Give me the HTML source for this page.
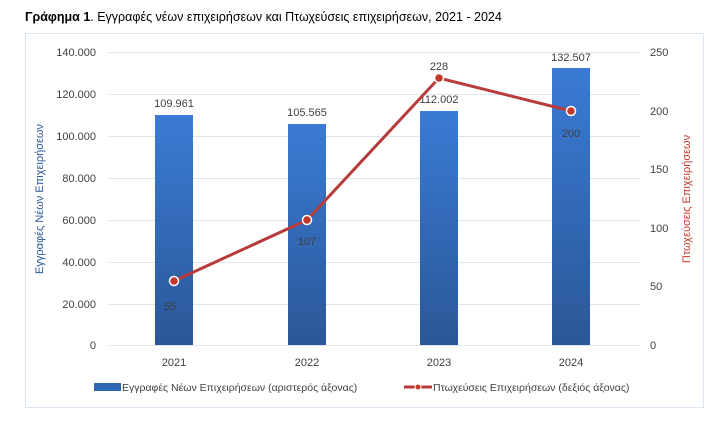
<!DOCTYPE html>
<html><head><meta charset="utf-8"><style>
body{margin:0;background:#fff;width:716px;height:429px;overflow:hidden;font-family:"Liberation Sans",sans-serif;}
</style></head><body>
<svg width="716" height="429" xmlns="http://www.w3.org/2000/svg" font-family="Liberation Sans, sans-serif">
<defs><linearGradient id="g" x1="0" y1="0" x2="0" y2="1"><stop offset="0" stop-color="#3a7bd5"/><stop offset="1" stop-color="#2b5797"/></linearGradient></defs>
<text x="25" y="21" font-size="12.5" fill="#000"><tspan font-weight="bold">Γράφημα 1</tspan>. Εγγραφές νέων επιχειρήσεων και Πτωχεύσεις επιχειρήσεων, 2021 - 2024</text>
<rect x="25.5" y="33.5" width="678" height="374" fill="#fff" stroke="#dbe5f1"/>
<g stroke="#dde6f0" stroke-width="1">
<line x1="108" x2="640" y1="52.5" y2="52.5"/><line x1="108" x2="640" y1="94.5" y2="94.5"/><line x1="108" x2="640" y1="136.5" y2="136.5"/><line x1="108" x2="640" y1="178.5" y2="178.5"/><line x1="108" x2="640" y1="220.5" y2="220.5"/><line x1="108" x2="640" y1="262.5" y2="262.5"/><line x1="108" x2="640" y1="304.5" y2="304.5"/><line x1="108" x2="640" y1="345.5" y2="345.5"/>
</g>
<g font-size="11" fill="#404040" text-anchor="end">
<text x="96" y="56">140.000</text><text x="96" y="98">120.000</text><text x="96" y="140">100.000</text><text x="96" y="182">80.000</text><text x="96" y="224">60.000</text><text x="96" y="266">40.000</text><text x="96" y="308">20.000</text><text x="96" y="349">0</text>
</g>
<g font-size="11" fill="#404040">
<text x="650" y="56">250</text><text x="650" y="115">200</text><text x="650" y="173">150</text><text x="650" y="232">100</text><text x="650" y="290">50</text><text x="650" y="349">0</text>
</g>
<text transform="translate(43,199) rotate(-90)" font-size="11" fill="#2b5797" text-anchor="middle">Εγγραφές Νέων Επιχειρήσεων</text>
<text transform="translate(690,199) rotate(-90)" font-size="11" fill="#c0392b" text-anchor="middle">Πτωχεύσεις Επιχειρήσεων</text>
<rect x="155" y="115" width="38" height="230" fill="url(#g)"/>
<rect x="288" y="124" width="38" height="221" fill="url(#g)"/>
<rect x="420" y="111" width="38" height="234" fill="url(#g)"/>
<rect x="552" y="68" width="38" height="277" fill="url(#g)"/>
<g font-size="11" fill="#404040" text-anchor="middle">
<text x="174" y="107">109.961</text><text x="307" y="116">105.565</text><text x="439" y="103">112.002</text><text x="571" y="61">132.507</text>
<text x="174" y="366">2021</text><text x="307" y="366">2022</text><text x="439" y="366">2023</text><text x="571" y="366">2024</text>
</g>
<polyline points="174,281 307,220 439,78 571,111" fill="none" stroke="#b83b3b" stroke-width="3"/>
<g fill="#c0392b" stroke="#fff" stroke-width="1.5">
<circle cx="174" cy="281" r="4.5"/><circle cx="307" cy="220" r="4.5"/><circle cx="439" cy="78" r="4.5"/><circle cx="571" cy="111" r="4.5"/>
</g>
<g font-size="11" fill="#404040" text-anchor="middle">
<text x="170" y="310">55</text><text x="307" y="245">107</text><text x="439" y="70">228</text><text x="571" y="137">200</text>
</g>
<rect x="94" y="383" width="27" height="8" fill="#2f66b3"/>
<text x="122" y="391" font-size="10.5" fill="#404040">Εγγραφές Νέων Επιχειρήσεων (αριστερός άξονας)</text>
<line x1="404" x2="432" y1="387" y2="387" stroke="#b83b3b" stroke-width="3"/>
<circle cx="418" cy="387" r="3" fill="#c0392b" stroke="#fff"/>
<text x="433" y="391" font-size="10.5" fill="#404040">Πτωχεύσεις Επιχειρήσεων (δεξιός άξονας)</text>
</svg>
</body></html>
